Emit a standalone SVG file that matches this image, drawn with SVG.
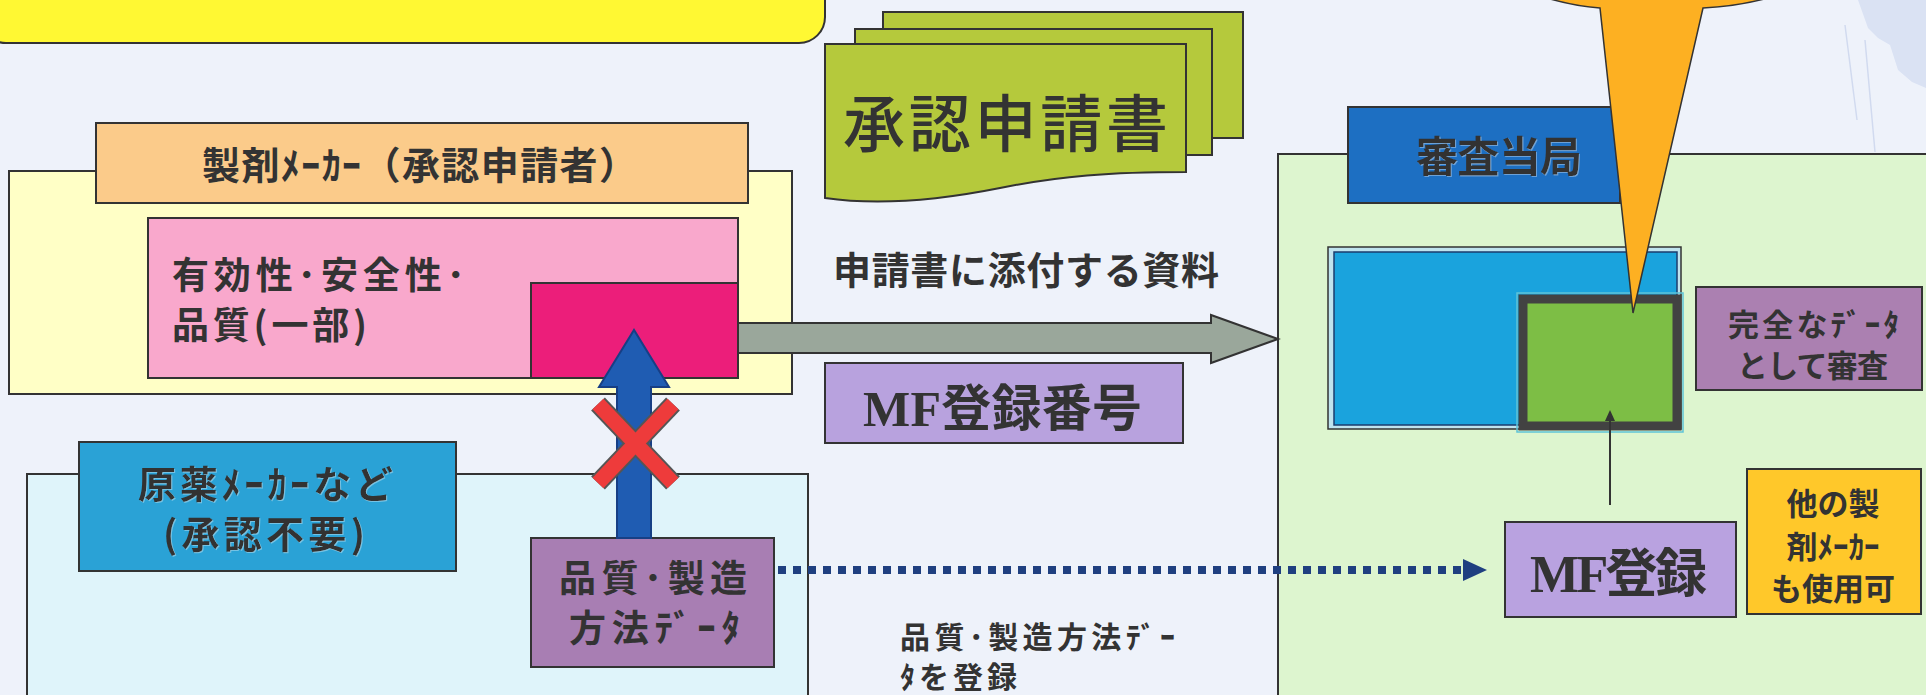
<svg xmlns="http://www.w3.org/2000/svg" width="1926" height="695" viewBox="0 0 1926 695">
<defs>
<style>
.bx{stroke:#333;stroke-width:2}
.t{font-family:"Noto Sans CJK JP","Noto Sans CJK SC",sans-serif;fill:#333;font-weight:700}
.sf{font-family:"Liberation Serif",serif;font-weight:700}
.emb{filter:url(#emb)}
</style>
<filter id="emb" x="-5%" y="-10%" width="110%" height="120%">
<feDropShadow dx="1" dy="1" stdDeviation="0.5" flood-color="#ffffff" flood-opacity="0.35"/>
</filter>
</defs>
<rect x="0" y="0" width="1926" height="695" fill="#EEF2FA"/>
<g id="bg-figure" fill="#CDD8F0" stroke="none" opacity="0.6">
<path d="M1858,0 L1926,0 L1926,88 L1912,82 L1898,70 L1890,45 L1878,38 L1868,28 Z"/>
<path d="M1845,25 L1857,120" stroke="#BFCBE8" stroke-width="1.5" fill="none"/>
<path d="M1865,40 L1875,152" stroke="#BFCBE8" stroke-width="1.5" fill="none"/>
</g>

<g id="top-banner">
<rect class="bx" x="-20" y="-30" width="845" height="73" rx="26" fill="#FFF833"/>
</g>

<g id="maker">
<rect class="bx" x="9" y="171" width="783" height="223" fill="#FFFFC6"/>
<rect class="bx" x="96" y="123" width="652" height="80" fill="#FBCB8A"/>
<text class="t" x="202" y="179" font-size="38" textLength="435" lengthAdjust="spacing">製剤ﾒｰｶｰ（承認申請者）</text>
</g>

<g id="pink-data">
<rect class="bx" x="148" y="218" width="590" height="160" fill="#F9A8CC"/>
<text class="t" x="172" y="289" font-size="37" textLength="293" lengthAdjust="spacing">有効性･安全性･</text>
<text class="t" x="172" y="339" font-size="37" textLength="195" lengthAdjust="spacing">品質(一部)</text>
</g>
<g id="magenta-part">
<rect class="bx" x="531" y="283" width="207" height="95" fill="#EC1E7A"/>
</g>

<g id="application-doc">
<path class="bx" d="M883,12 H1243 V138 H1212 V29 H883 Z" fill="#B5C93C"/>
<path class="bx" d="M855,29 H1212 V155 H1186 V44 H855 Z" fill="#B5C93C"/>
<path class="bx" d="M825,44 H1186 V172 C1110,172 1060,176 1000,188 C940,200 880,206 825,198 Z" fill="#B5C93C"/>
<text class="t" x="843" y="147" font-size="62" textLength="325" lengthAdjust="spacing" style="font-weight:500">承認申請書</text>
</g>

<g id="attach-label">
<text class="t" x="833" y="284" font-size="38" textLength="386" lengthAdjust="spacing">申請書に添付する資料</text>
</g>

<g id="mf-number">
<rect class="bx" x="825" y="363" width="358" height="80" fill="#B8A2DE"/>
<text class="t" x="863" y="426" font-size="50" textLength="279" lengthAdjust="spacing"><tspan class="sf">MF</tspan>登録番号</text>
</g>

<g id="api-maker">
<rect class="bx" x="27" y="474" width="781" height="240" fill="#DFF4FA"/>
<rect class="bx" x="79" y="442" width="377" height="129" fill="#2AA2D6"/>
<text class="t emb" x="138" y="498" font-size="38" textLength="255" lengthAdjust="spacing">原薬ﾒｰｶｰなど</text>
<text class="t emb" x="163" y="548" font-size="38" textLength="202" lengthAdjust="spacing">(承認不要)</text>
</g>

<g id="quality-data">
<rect class="bx" x="531" y="538" width="243" height="129" fill="#A87EB3"/>
<text class="t" x="559" y="592" font-size="37" textLength="188" lengthAdjust="spacing">品質･製造</text>
<text class="t" x="569" y="642" font-size="37" textLength="171" lengthAdjust="spacing">方法ﾃﾞｰﾀ</text>
</g>

<g id="register-label">
<text class="t" x="900" y="648" font-size="30" textLength="275" lengthAdjust="spacing">品質･製造方法ﾃﾞｰ</text>
<text class="t" x="900" y="688" font-size="30" textLength="117" lengthAdjust="spacing">ﾀを登録</text>
</g>

<g id="authority">
<rect class="bx" x="1278" y="154" width="660" height="560" fill="#DDF5CF"/>
<rect class="bx" x="1348" y="107" width="272" height="96" fill="#1D6FC2"/>
<text class="t emb" x="1416" y="172" font-size="42" textLength="166" lengthAdjust="spacing">審査当局</text>
</g>

<g id="review-data">
<rect x="1328" y="247" width="353" height="182" fill="#BFE3EE" stroke="#333" stroke-width="1.5"/>
<rect x="1334" y="252" width="343" height="173" fill="#1AA3DD" stroke="#1B3C6E" stroke-width="1.5"/>
</g>
<g id="mf-data">
<rect x="1517" y="293" width="166" height="139" fill="none" stroke="#5FC3D8" stroke-width="1.5"/>
<rect x="1523" y="299" width="154" height="127" fill="#7DBE45" stroke="#424242" stroke-width="9"/>
</g>

<g id="complete-review">
<rect class="bx" x="1696" y="287" width="226" height="103" fill="#AB80B1"/>
<text class="t" x="1728" y="336" font-size="31" textLength="171" lengthAdjust="spacing">完全なﾃﾞｰﾀ</text>
<text class="t" x="1737" y="377" font-size="31" textLength="151" lengthAdjust="spacing">として審査</text>
</g>

<g id="mf-registration">
<rect class="bx" x="1505" y="522" width="231" height="95" fill="#B9A2E0"/>
<text class="t" x="1530" y="592" font-size="52" textLength="177" lengthAdjust="spacing"><tspan class="sf">MF</tspan>登録</text>
</g>

<g id="other-makers">
<rect class="bx" x="1747" y="469" width="174" height="145" fill="#FFC82A"/>
<text class="t" x="1833" y="515" font-size="31" text-anchor="middle">他の製</text>
<text class="t" x="1833" y="558" font-size="31" text-anchor="middle">剤ﾒｰｶｰ</text>
<text class="t" x="1833" y="600" font-size="31" text-anchor="middle">も使用可</text>
</g>

<g id="connectors">
<polygon points="738,323 1211,323 1211,315 1278,339 1211,363 1211,353 738,353" fill="#9AA79B" stroke="#333" stroke-width="2"/>
<polygon points="617,538 617,387 599,387 634,330 669,387 651,387 651,538" fill="#1F5CB2" stroke="#173F85" stroke-width="2"/>
<g stroke-linecap="butt">
<line x1="598" y1="404" x2="673" y2="483" stroke="#555" stroke-width="19"/>
<line x1="673" y1="404" x2="598" y2="483" stroke="#555" stroke-width="19"/>
<line x1="598" y1="404" x2="673" y2="483" stroke="#EE3B3B" stroke-width="15"/>
<line x1="673" y1="404" x2="598" y2="483" stroke="#EE3B3B" stroke-width="15"/>
</g>
<line x1="778" y1="570" x2="1461" y2="570" stroke="#1F3F80" stroke-width="8" stroke-dasharray="8 7"/>
<polygon points="1463,559 1487,570 1463,581" fill="#1F3F80"/>
<line x1="1610" y1="505" x2="1610" y2="419" stroke="#333" stroke-width="2"/>
<polygon points="1605,421 1610,410 1615,421" fill="#333"/>
<path d="M1540,-4 Q1572,6 1600,8 L1633,313 L1703,8 Q1742,6 1775,-4 Z" fill="#FDB022" stroke="#333" stroke-width="1.5"/>
</g>
</svg>
